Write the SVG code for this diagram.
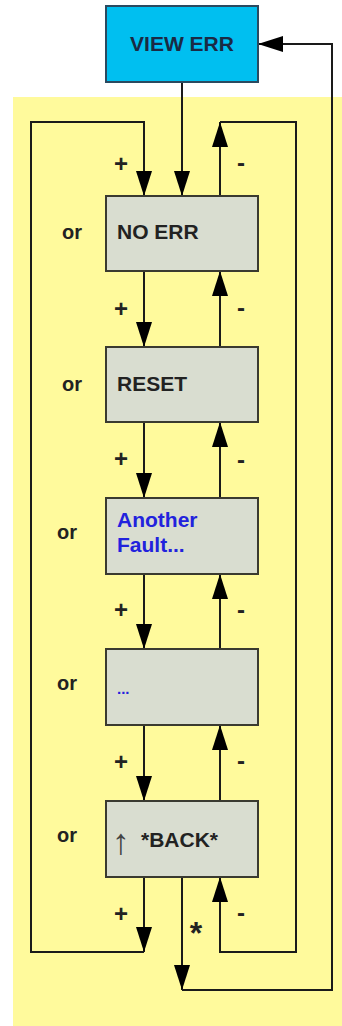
<svg xmlns="http://www.w3.org/2000/svg" width="342" height="1026" viewBox="0 0 342 1026">
<defs>
<style>
.box{fill:#d9ddd0;stroke:#3a3a30;stroke-width:2}
.t{font-family:"Liberation Sans",Arial,sans-serif;font-weight:bold;font-size:21px;fill:#222}
.b{fill:#2222dd}
.or{font-family:"Liberation Sans",Arial,sans-serif;font-weight:bold;font-size:20px;fill:#222}
.pm{font-family:"Liberation Sans",Arial,sans-serif;font-weight:bold;font-size:24px;fill:#222;text-anchor:middle}
.c{fill:none;stroke:#1a1a1a;stroke-width:2}
</style>
<marker id="ah" markerUnits="userSpaceOnUse" markerWidth="26" markerHeight="16" refX="25" refY="8" orient="auto" viewBox="0 0 26 16">
<path d="M0,0 L25,8 L0,16 Z" fill="#000"/>
</marker>
</defs>
<rect x="13" y="97" width="329" height="929" fill="#fffa9c"/>
<g id="connectors">
<path class="c" d="M182,82 V196" marker-end="url(#ah)"/>
<path class="c" d="M144,877 V952" marker-end="url(#ah)"/>
<path class="c" d="M144,952 H31 V122 H144 V196" marker-end="url(#ah)"/>
<path class="c" d="M144,271 V347" marker-end="url(#ah)"/>
<path class="c" d="M144,422 V498" marker-end="url(#ah)"/>
<path class="c" d="M144,574 V649" marker-end="url(#ah)"/>
<path class="c" d="M144,725 V801" marker-end="url(#ah)"/>
<path class="c" d="M220,196 V122" marker-end="url(#ah)"/>
<path class="c" d="M220,122 H296 V952 H220 V877" marker-end="url(#ah)"/>
<path class="c" d="M220,347 V271" marker-end="url(#ah)"/>
<path class="c" d="M220,498 V422" marker-end="url(#ah)"/>
<path class="c" d="M220,649 V574" marker-end="url(#ah)"/>
<path class="c" d="M220,801 V725" marker-end="url(#ah)"/>
<path class="c" d="M182,877 V990" marker-end="url(#ah)"/>
<path class="c" d="M182,990 H332 V44 H258" marker-end="url(#ah)"/>
</g>
<g id="labels">
<text class="pm" x="121" y="172">+</text>
<text class="pm" x="241" y="171">-</text>
<text class="pm" x="121" y="317">+</text>
<text class="pm" x="241" y="316">-</text>
<text class="pm" x="121" y="467">+</text>
<text class="pm" x="241" y="468">-</text>
<text class="pm" x="121" y="618">+</text>
<text class="pm" x="241" y="618">-</text>
<text class="pm" x="121" y="770">+</text>
<text class="pm" x="241" y="769">-</text>
<text class="pm" x="121" y="922">+</text>
<text class="pm" x="241" y="921">-</text>
<text class="pm" x="196" y="944" style="font-size:32px">*</text>
<text class="or" x="62" y="239">or</text>
<text class="or" x="62" y="391">or</text>
<text class="or" x="57" y="539">or</text>
<text class="or" x="57" y="690">or</text>
<text class="or" x="57" y="842">or</text>
</g>
<g id="view-err">
<rect x="106" y="6" width="152" height="76" fill="#00bff0" stroke="#2a4a60" stroke-width="2"/>
<text class="t" x="182" y="51" text-anchor="middle" style="fill:#1a2a44">VIEW ERR</text>
</g>
<g id="no-err">
<rect class="box" x="106" y="196" width="152" height="75"/>
<text class="t" x="117" y="239">NO ERR</text>
</g>
<g id="reset">
<rect class="box" x="106" y="347" width="152" height="75"/>
<text class="t" x="117" y="391">RESET</text>
</g>
<g id="another-fault">
<rect class="box" x="106" y="498" width="152" height="76"/>
<text class="t b" x="117" y="527">Another</text>
<text class="t b" x="117" y="552">Fault...</text>
</g>
<g id="more">
<rect class="box" x="106" y="649" width="152" height="76"/>
<text class="t b" x="117" y="694" style="font-size:15px">...</text>
</g>
<g id="back">
<rect class="box" x="106" y="801" width="152" height="76"/>
<text class="t" x="112" y="854"><tspan style="font-weight:normal;font-size:36px;fill:#444">↑</tspan><tspan x="141" y="847">*BACK*</tspan></text>
</g>
</svg>
